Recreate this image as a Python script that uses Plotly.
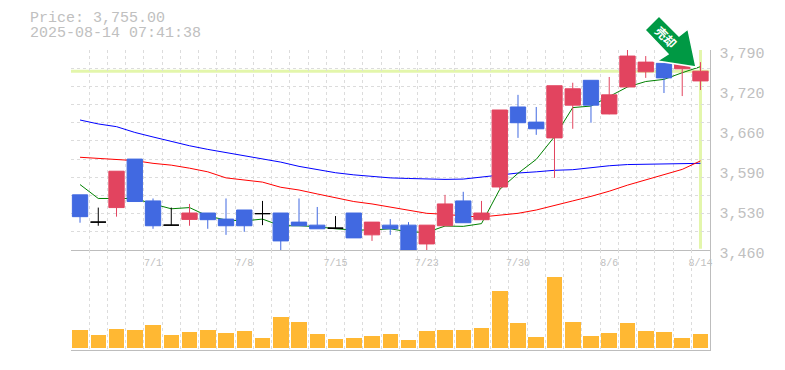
import numpy as np
import plotly.graph_objects as go

dates = ["6/25","6/26","6/27","6/30","7/1","7/2","7/3","7/4","7/7","7/8","7/9","7/10","7/11","7/14","7/15",
         "7/16","7/17","7/18","7/22","7/23","7/24","7/25","7/28","7/29","7/30","7/31","8/1","8/4","8/5","8/6",
         "8/7","8/8","8/12","8/13","8/14"]
opens = [3551,3506,3530,3610,3541,3501,3510.5,3521,3511,3526,3520,3521,3506,3501,3496,3521,3485,3501,3501,3470,
         3500,3541,3510,3564,3696,3671,3645,3699,3740,3684.5,3729,3754,3768,3759,3739]
highs = [3551,3530,3590,3610,3545,3530,3536,3521,3545,3526,3541,3521,3545,3531,3516,3521,3506,3511,3506,3501,
         3551,3556,3541,3691,3716,3696,3731,3736,3740,3745.5,3790,3780,3768,3770,3770]
lows = [3505,3500,3515,3540,3495,3501,3500,3495,3485,3490,3501,3459,3500,3495,3495,3480,3475,3485,3459,3459,
        3500,3505,3510,3559,3645,3650,3579,3660,3670,3684,3729,3744,3719,3714,3724]
closes = [3515,3506,3590,3540,3500,3501,3521,3510,3500,3500,3520,3475,3500,3495,3496,3480,3506,3495,3459,3501,
          3536,3505,3521,3691,3670,3660,3731,3726,3699,3716,3780,3770,3744,3770,3755]
ma_short = [3568,3545,3545,3545,3536,3528,3530,3516,3509.5,3508,3511,3500,3500,3498.5,3495,3493,3493,3495,3490,
            3489,3499.5,3499,3503.5,3560,3586.5,3609.5,3647,3695,3697.5,3713,3729,3738,3741.5,3752.5,3762.5]
ma_mid = [3613,3611,3608.5,3607.5,3603,3600,3595,3589,3579,3575.5,3572,3563.5,3559,3552.5,3546,3540,3536,3530.5,
          3526,3520.5,3519,3516,3514.5,3517,3520.5,3526,3534,3541,3548.5,3557,3567,3575.5,3584,3593,3607]
ma_long = [3674.5,3668,3663.5,3654,3646.5,3639,3632,3626,3621,3616,3611,3605,3598,3592.5,3587.5,3584,3581.5,3579,
           3578,3577,3576.5,3577,3580.5,3584,3587,3589,3591.5,3592.5,3596,3599,3601,3601.5,3601.5,3602,3603]
volumes = [18,13,19,18,23,13,16,18,15,17,10,31,26,14,9,10,12,14,8,17,18,18,20,57,25,11,71,26,12,15,25,17,16,10,14]
price_ticks = [3460,3526,3592,3658,3724,3790]
price_labels = ["3,460","3,530","3,590","3,660","3,720","3,790"]
date_tick_idx = [4,9,14,19,24,29,34]
last_price = 3755.00
stamp = "2025-08-14 07:41:38"

W, H = 785, 370
GRID = "#dcdcdc"; AXIS = "#bdbdbd"; TXT = "#c0c0c0"; PALE = "#e3f6ab"
MONO = "Liberation Mono, monospace"
x = np.arange(len(dates))
PR = [3460, 3790]
XR = [-0.5, len(dates) - 0.5]
VR = [-2, 98]

def px(u): return u / W
def py(v): return 1 - v / H

is_doji = np.array(opens) == np.array(closes)
fig = go.Figure()
for vals, col in ((ma_long, "#0000ff"), (ma_mid, "#ff0000"), (ma_short, "#008000")):
    fig.add_trace(go.Scatter(x=x, y=vals, mode="lines", line=dict(color=col, width=1), showlegend=False, xaxis="x", yaxis="y"))

def cs(mask, up, down):
    return go.Candlestick(
        x=x[mask], open=np.array(opens)[mask], high=np.array(highs)[mask], low=np.array(lows)[mask], close=np.array(closes)[mask],
        increasing=dict(line=dict(color=up, width=1), fillcolor=up),
        decreasing=dict(line=dict(color=down, width=1), fillcolor=down),
        showlegend=False, xaxis="x", yaxis="y3")

fig.add_trace(cs(~is_doji, "#e2445f", "#4169e1"))
fig.add_trace(cs(is_doji, "#000000", "#000000"))
fig.add_trace(go.Bar(x=x, y=volumes, width=0.86, marker=dict(color="#ffb833", line_width=0), showlegend=False, xaxis="x2", yaxis="y2"))

minor_x = dict(tickmode="array", tickvals=list(x - 0.5) + [XR[1]], showgrid=True, gridcolor=GRID, griddash="3px,3px", gridwidth=1, ticklen=0)
arrow_pts = [(659, 16), (679, 36), (688, 29), (696, 67), (657, 61), (668, 54), (645, 30)]
arrow_path = "M " + " L ".join(f"{px(a)} {py(b)}" for a, b in arrow_pts) + " Z"
fig.update_layout(
    width=W, height=H, margin=dict(l=0, r=0, t=0, b=0), paper_bgcolor="white", plot_bgcolor="white",
    autosize=False, boxmode="overlay", boxgap=0.16, boxgroupgap=0, bargap=0, hovermode=False,
    xaxis=dict(domain=[px(70.9), px(709.6)], range=XR, anchor="y", tickmode="array", tickvals=date_tick_idx,
               ticktext=[dates[i] for i in date_tick_idx], tickfont=dict(family=MONO, size=10, color=TXT), ticklen=0,
               ticklabelstandoff=3, showgrid=False, showline=True, linecolor=AXIS, linewidth=1, rangeslider=dict(visible=False),
               minor=minor_x, zeroline=False, automargin=False),
    yaxis=dict(domain=[py(250), py(50)], range=PR, anchor="x", side="right", tickmode="array", tickvals=price_ticks,
               ticktext=price_labels, tickfont=dict(family=MONO, size=15, color=TXT), ticklen=0, ticklabelstandoff=6,
               ticklabelshift=3, showgrid=False, showline=True, linecolor=AXIS, linewidth=1, zeroline=False, automargin=False,
               minor=dict(tickmode="array", tickvals=[3460 + 30 * k for k in range(12)], showgrid=True, gridcolor=GRID,
                          griddash="3px,3px", gridwidth=1, ticklen=0)),
    yaxis3=dict(overlaying="y", range=PR, side="right", visible=False, showgrid=False),
    xaxis2=dict(domain=[px(70.9), px(709.6)], range=XR, anchor="y2", showticklabels=False, ticklen=0, showgrid=False,
                showline=True, linecolor=AXIS, linewidth=1, minor=minor_x, zeroline=False),
    yaxis2=dict(domain=[py(350), py(250)], range=VR, anchor="x2", side="right", showticklabels=False, ticklen=0, showgrid=False,
                showline=True, linecolor=AXIS, linewidth=1, zeroline=False),
    shapes=[
        dict(type="line", xref="x", yref="y", x0=XR[0], x1=XR[1], y0=last_price, y1=last_price, line=dict(color=PALE, width=3), layer="below"),
        dict(type="line", xref="x", yref="y", x0=x[-1], x1=x[-1], y0=PR[0] + 2, y1=PR[1], line=dict(color=PALE, width=3), layer="below"),
        dict(type="path", xref="paper", yref="paper", layer="above", fillcolor="#009944", line=dict(color="white", width=1.5), path=arrow_path),
    ],
    annotations=[
        dict(xref="paper", yref="paper", x=px(29), y=py(18.5), xanchor="left", yanchor="middle", showarrow=False, borderpad=0,
             text=f"Price: {last_price:,.2f}", font=dict(family=MONO, size=15, color=TXT)),
        dict(xref="paper", yref="paper", x=px(29), y=py(33.5), xanchor="left", yanchor="middle", showarrow=False, borderpad=0,
             text=stamp, font=dict(family=MONO, size=15, color=TXT)),
        dict(xref="paper", yref="paper", x=px(666), y=py(37), xanchor="center", yanchor="middle", showarrow=False, textangle=45,
             text="<b>売却</b>", font=dict(family="Noto Sans CJK JP", size=12, color="white")),
    ],
)
fig.write_html("out.html", post_script="document.body.style.margin='0';", config=dict(displayModeBar=False))
